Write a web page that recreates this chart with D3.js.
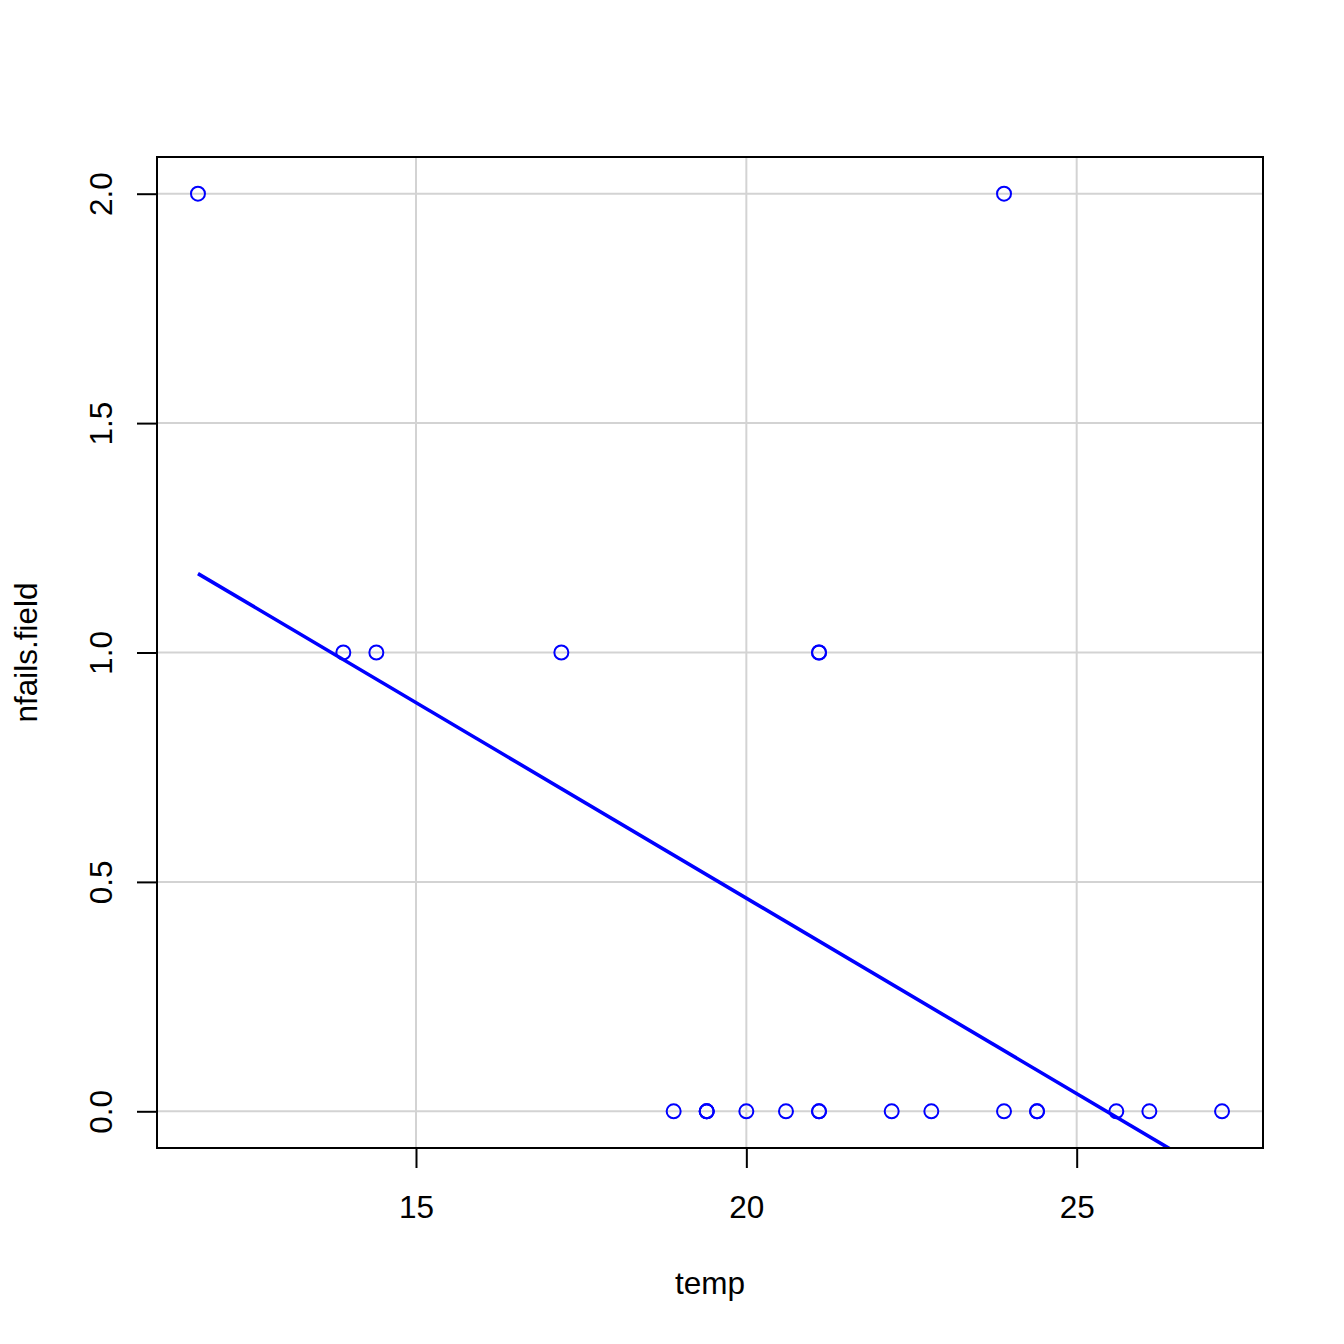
<!DOCTYPE html>
<html><head><meta charset="utf-8">
<script src="https://cdn.jsdelivr.net/npm/d3@7"></script>
<style>body{margin:0;background:#fff}svg{display:block}text{font-family:"Liberation Sans",Arial,Helvetica,sans-serif;fill:#000}</style>
</head><body>
<script>
// temperatures in Celsius (Challenger field data, 1 decimal)
const temp = [18.9,21.1,20.6,20.0,19.4,22.2,22.8,21.1,13.9,17.2,21.1,25.6,19.4,11.7,19.4,23.9,21.1,27.2,24.4,26.1,23.9,24.4,14.4];
const nfails = [0,1,0,0,0,0,0,0,1,1,1,0,0,2,0,0,0,0,0,0,2,0,1];
// fitted line endpoints (lm of nfails.field on temp)
const fitX = [11.7, 27.2];
const fitY = [1.172, -0.149];
const xTicks = [15, 20, 25];
const yTicks = [0.0, 0.5, 1.0, 1.5, 2.0];
const xDomain = [11.08, 27.82];
const yDomain = [-0.08, 2.08];

const W = 1344, H = 1344;
const L = 157, R = 1263, T = 157, B = 1148;
const FS = 31.5;
const svg = d3.select("body").append("svg").attr("width", W).attr("height", H);
const x = d3.scaleLinear().domain(xDomain).range([L, R]);
const y = d3.scaleLinear().domain(yDomain).range([B, T]);

// grid
svg.append("g").selectAll("line").data(xTicks).join("line")
  .attr("x1", d => x(d)).attr("x2", d => x(d)).attr("y1", T).attr("y2", B)
  .attr("stroke", "#d3d3d3").attr("stroke-width", 2);
svg.append("g").selectAll("line").data(yTicks).join("line")
  .attr("y1", d => y(d)).attr("y2", d => y(d)).attr("x1", L).attr("x2", R)
  .attr("stroke", "#d3d3d3").attr("stroke-width", 2);

// clip
svg.append("clipPath").attr("id", "clip").append("rect")
  .attr("x", L).attr("y", T).attr("width", R - L).attr("height", B - T);

// points
svg.append("g").selectAll("circle").data(temp.map((t, i) => [t, nfails[i]])).join("circle")
  .attr("cx", d => x(d[0])).attr("cy", d => y(d[1])).attr("r", 7)
  .attr("fill", "none").attr("stroke", "#0000ff").attr("stroke-width", 2);

// fit line
svg.append("path").attr("clip-path", "url(#clip)")
  .attr("d", d3.line().x(d => x(d[0])).y(d => y(d[1]))(fitX.map((v, i) => [v, fitY[i]])))
  .attr("fill", "none").attr("stroke", "#0000ff").attr("stroke-width", 3.6);

// axes
const xa = svg.append("g").attr("transform", `translate(0,${B})`)
  .call(d3.axisBottom(x).tickValues(xTicks).tickSize(20).tickFormat(d3.format("d")));
xa.select(".domain").remove();
xa.selectAll("line").attr("stroke", "#000").attr("stroke-width", 2);
xa.selectAll("text").attr("font-size", FS).attr("font-family", "Liberation Sans, Arial, sans-serif").attr("fill", "#000").attr("dy", null).attr("y", 70);
svg.append("line").attr("x1", x(15)).attr("x2", x(25)).attr("y1", B).attr("y2", B).attr("stroke", "#000").attr("stroke-width", 2);

const ya = svg.append("g").attr("transform", `translate(${L},0)`)
  .call(d3.axisLeft(y).tickValues(yTicks).tickSize(20).tickFormat(d3.format(".1f")));
ya.select(".domain").remove();
ya.selectAll("line").attr("stroke", "#000").attr("stroke-width", 2);
ya.selectAll("text").attr("font-size", FS).attr("font-family", "Liberation Sans, Arial, sans-serif").attr("fill", "#000")
  .attr("x", null).attr("dy", null).attr("text-anchor", "middle")
  .attr("transform", "translate(-45,0) rotate(-90)");

// box
svg.append("rect").attr("x", L).attr("y", T).attr("width", R - L).attr("height", B - T)
  .attr("fill", "none").attr("stroke", "#000").attr("stroke-width", 2);

// labels
svg.append("text").attr("x", (L + R) / 2).attr("y", 1294).attr("text-anchor", "middle").attr("font-size", FS).text("temp");
svg.append("text").attr("transform", `translate(37,${(T + B) / 2}) rotate(-90)`).attr("text-anchor", "middle").attr("font-size", FS).text("nfails.field");
</script>
</body></html>
